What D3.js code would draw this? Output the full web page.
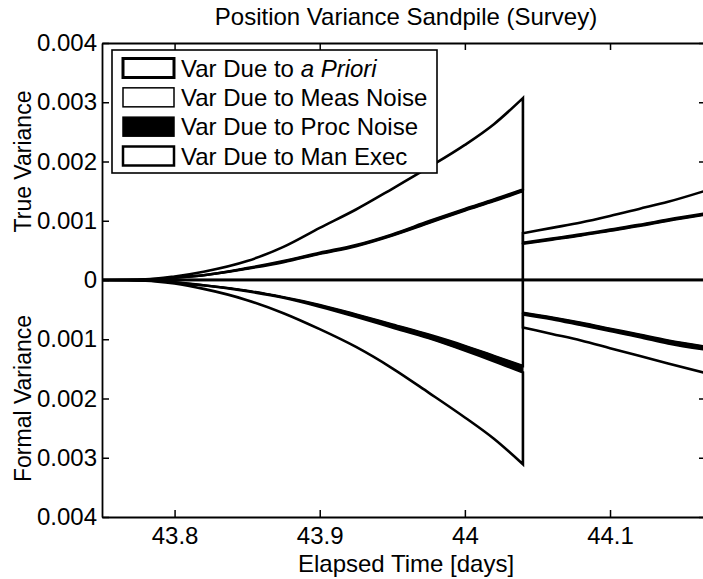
<!DOCTYPE html>
<html>
<head>
<meta charset="utf-8">
<script src="https://cdn.jsdelivr.net/npm/d3@7"></script>
<style>
  body { margin: 0; background: #fff; }
  svg text { font-family: "Liberation Sans", Arial, sans-serif; fill: #000; }
</style>
</head>
<body>
<div id="chart"></div>
<script>
// elapsed time [days], before and after the update near 44.04
const timesBefore = [43.75, 43.78, 43.80, 43.82, 43.85, 43.875, 43.90, 43.925, 43.95, 43.975, 44.0, 44.02, 44.04];
const timesAfter = [44.04, 44.06, 44.08, 44.10, 44.12, 44.14, 44.1675];

const seriesKeys = ["aPriori", "measNoise", "procNoise", "manExec"];

// true variance contributions (upper half)
const trueAPrioriBefore = [0, 0.00001, 0.00004, 0.00008, 0.00019, 0.0003, 0.00044, 0.00057, 0.00075, 0.00096, 0.00117, 0.00133, 0.0015];
const trueMeasBefore = [0, 0, 0, 0, 0.00001, 0.00001, 0.00001, 0.00001, 0.00001, 0.00001, 0.00001, 0.00001, 0.00001];
const trueProcBefore = [0, 0, 0, 0, 0, 0.00001, 0.00001, 0.00001, 0.00001, 0.00002, 0.00002, 0.00002, 0.00002];
const trueManBefore = [0, 0, 0.00002, 0.00006, 0.00012, 0.00024, 0.00042, 0.0006, 0.00077, 0.00091, 0.00108, 0.00127, 0.00154];

const trueAPrioriAfter = [0.00061, 0.00068, 0.00075, 0.00083, 0.00091, 0.001, 0.00111];
const trueMeasAfter = [0.00001, 0.00001, 0.00001, 0.00001, 0.00001, 0.00001, 0.00001];
const trueProcAfter = [0.00001, 0.00001, 0.00001, 0.00001, 0.00001, 0.00001, 0.00001];
const trueManAfter = [0.00016, 0.00018, 0.0002, 0.00023, 0.00027, 0.0003, 0.00039];

// formal variance contributions (lower half)
const formalAPrioriBefore = [0, 0.00001, 0.00004, 0.00009, 0.00018, 0.00029, 0.00042, 0.00058, 0.00075, 0.00092, 0.00111, 0.00128, 0.00145];
const formalMeasBefore = [0, 0, 0, 0, 0, 0, 0.00001, 0.00001, 0.00001, 0.00001, 0.00001, 0.00001, 0.00001];
const formalProcBefore = [0, 0, 0, 0, 0.00001, 0.00001, 0.00002, 0.00003, 0.00004, 0.00005, 0.00007, 0.00008, 0.0001];
const formalManBefore = [0, 0, 0.00002, 0.00006, 0.00015, 0.00026, 0.00038, 0.00051, 0.00069, 0.00092, 0.00113, 0.00131, 0.00155];

const formalAPrioriAfter = [0.00055, 0.00063, 0.00072, 0.00082, 0.00092, 0.00102, 0.00113];
const formalMeasAfter = [0.00001, 0.00001, 0.00001, 0.00001, 0.00001, 0.00001, 0.00001];
const formalProcAfter = [0.00002, 0.00002, 0.00003, 0.00003, 0.00003, 0.00004, 0.00004];
const formalManAfter = [0.00022, 0.00025, 0.00026, 0.00029, 0.00032, 0.00034, 0.0004];

const yTicks = [-0.004, -0.003, -0.002, -0.001, 0, 0.001, 0.002, 0.003, 0.004];
const xTicks = [43.8, 43.9, 44.0, 44.1];

const legendLabels = ["Var Due to ", "Var Due to Meas Noise", "Var Due to Proc Noise", "Var Due to Man Exec"];
const seriesFill = ["#fff", "#fff", "#000", "#fff"];
const seriesStroke = [2.4, 1.3, 1.2, 2.6];
const legendStroke = [3, 1.5, 1.5, 2.5];

const width = 703, height = 579;
const margin = {left: 102, top: 43, right: 708, bottom: 517};

const svg = d3.select("#chart").append("svg")
    .attr("width", width)
    .attr("height", height);

const x = d3.scaleLinear().domain([43.75, 44.1675]).range([margin.left, margin.right]);
const y = d3.scaleLinear().domain([-0.004, 0.004]).range([margin.bottom, margin.top]);

function rows(times, a, m, p, e) {
    return times.map((t, i) => ({t: t, aPriori: a[i], measNoise: m[i], procNoise: p[i], manExec: e[i]}));
}

const halves = [
    {sign: 1, segs: [
        rows(timesBefore, trueAPrioriBefore, trueMeasBefore, trueProcBefore, trueManBefore),
        rows(timesAfter, trueAPrioriAfter, trueMeasAfter, trueProcAfter, trueManAfter)]},
    {sign: -1, segs: [
        rows(timesBefore, formalAPrioriBefore, formalMeasBefore, formalProcBefore, formalManBefore),
        rows(timesAfter, formalAPrioriAfter, formalMeasAfter, formalProcAfter, formalManAfter)]}
];

// axes first so the white areas cover ticks like the original
const fmt = d => d === 0 ? "0" : d3.format(".3f")(Math.abs(d));

svg.append("g")
    .attr("transform", `translate(${margin.left},0)`)
    .call(d3.axisLeft(y).tickValues(yTicks).tickSizeInner(-7).tickSizeOuter(0).tickPadding(5).tickFormat(fmt))
    .call(g => g.selectAll("text").attr("font-size", "24px").attr("font-family", null));

svg.append("g")
    .attr("transform", `translate(${margin.right},0)`)
    .call(d3.axisRight(y).tickValues(yTicks).tickSizeInner(-9).tickSizeOuter(0).tickFormat(""));

svg.append("g")
    .attr("transform", `translate(0,${margin.bottom})`)
    .call(d3.axisBottom(x).tickValues(xTicks).tickSizeInner(-7).tickSizeOuter(0).tickPadding(10).tickFormat(d => String(d)))
    .call(g => g.selectAll("text").attr("font-size", "24px").attr("font-family", null));

svg.append("g")
    .attr("transform", `translate(0,${margin.top})`)
    .call(d3.axisTop(x).tickValues(xTicks).tickSizeInner(-7).tickSizeOuter(0).tickFormat(""));

svg.selectAll(".domain").attr("stroke-width", 1.8);
svg.selectAll(".tick line").attr("stroke-width", 1.5);

const stack = d3.stack().keys(seriesKeys);

halves.forEach(h => {
    h.segs.forEach(seg => {
        const layers = stack(seg);
        const area = d3.area()
            .x(d => x(d.data.t))
            .y0(d => y(h.sign * d[0]))
            .y1(d => y(h.sign * d[1]))
            .curve(d3.curveMonotoneX);

        // fills
        svg.append("g").selectAll("path")
            .data(layers)
            .join("path")
            .attr("d", area)
            .attr("fill", (d, i) => seriesFill[i])
            .attr("stroke", "none");

        // outlines
        svg.append("g").selectAll("path")
            .data(layers)
            .join("path")
            .attr("d", area)
            .attr("fill", "none")
            .attr("stroke", "#000")
            .attr("stroke-width", (d, i) => seriesStroke[i])
            .attr("stroke-linejoin", "miter");
    });
});

// zero line
svg.append("line")
    .attr("x1", margin.left).attr("x2", margin.right)
    .attr("y1", y(0)).attr("y2", y(0))
    .attr("stroke", "#000")
    .attr("stroke-width", 2.6);

// title and axis labels
svg.append("text")
    .attr("x", 406).attr("y", 25)
    .attr("text-anchor", "middle")
    .attr("font-size", "24px")
    .text("Position Variance Sandpile (Survey)");

svg.append("text")
    .attr("x", 406).attr("y", 572)
    .attr("text-anchor", "middle")
    .attr("font-size", "24px")
    .text("Elapsed Time [days]");

svg.append("text")
    .attr("transform", `translate(31,${(y(0.004) + y(0)) / 2}) rotate(-90)`)
    .attr("text-anchor", "middle")
    .attr("font-size", "23px")
    .text("True Variance");

svg.append("text")
    .attr("transform", `translate(31,${(y(-0.004) + y(0)) / 2}) rotate(-90)`)
    .attr("text-anchor", "middle")
    .attr("font-size", "23px")
    .text("Formal Variance");

// legend
const legend = svg.append("g");
legend.append("rect")
    .attr("x", 112).attr("y", 50)
    .attr("width", 325).attr("height", 123)
    .attr("fill", "#fff")
    .attr("stroke", "#000")
    .attr("stroke-width", 1.6);

const rowY = d3.scaleLinear().domain([0, 3]).range([68, 156]);

legend.selectAll(".swatch")
    .data(seriesKeys)
    .join("rect")
    .classed("swatch", true)
    .attr("x", 123).attr("y", (d, i) => rowY(i) - 9.5)
    .attr("width", 51).attr("height", 19)
    .attr("fill", (d, i) => seriesFill[i])
    .attr("stroke", "#000")
    .attr("stroke-width", (d, i) => legendStroke[i]);

const labels = legend.selectAll(".legText")
    .data(legendLabels)
    .join("text")
    .classed("legText", true)
    .attr("x", 181).attr("y", (d, i) => rowY(i) + 8.5)
    .attr("font-size", "24px")
    .text(d => d);

labels.filter((d, i) => i === 0)
    .append("tspan")
    .attr("font-style", "italic")
    .text("a Priori");
</script>
</body>
</html>
